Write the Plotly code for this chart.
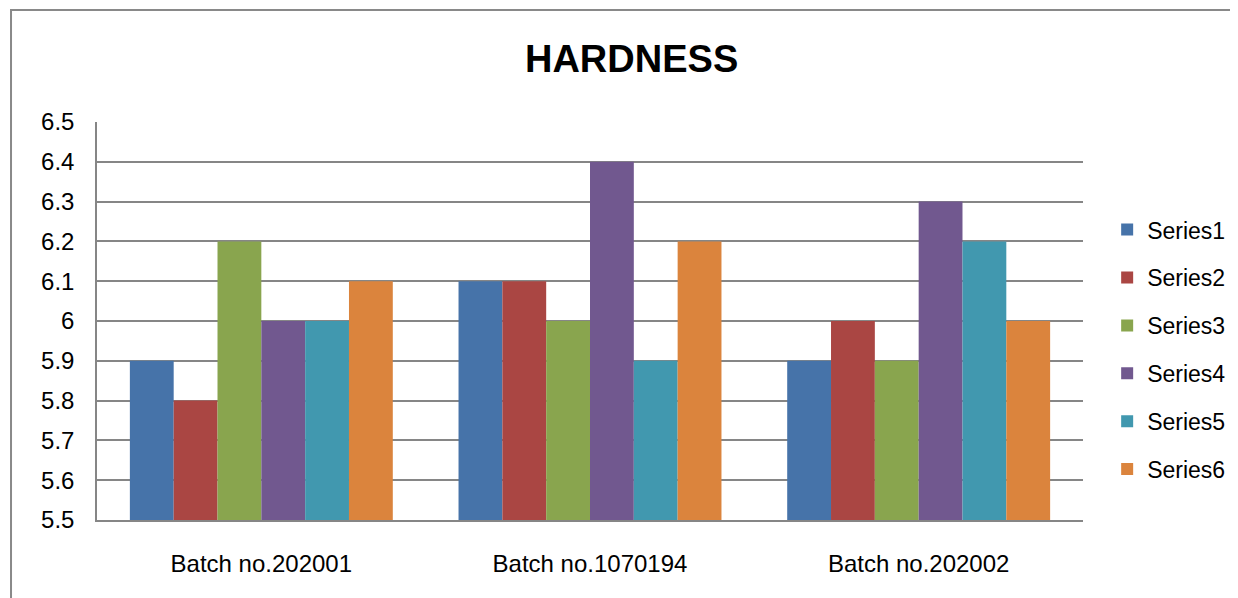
import plotly.graph_objects as go

categories = ["Batch no.202001", "Batch no.1070194", "Batch no.202002"]
series_names = ["Series1", "Series2", "Series3", "Series4", "Series5", "Series6"]
series1 = [5.9, 6.1, 5.9]
series2 = [5.8, 6.1, 6.0]
series3 = [6.2, 6.0, 5.9]
series4 = [6.0, 6.4, 6.3]
series5 = [6.0, 5.9, 6.2]
series6 = [6.1, 6.2, 6.0]
y_floor = 5.5
y_ticks = [5.5, 5.6, 5.7, 5.8, 5.9, 6.0, 6.1, 6.2, 6.3, 6.4, 6.5]
y_tick_labels = ["5.5", "5.6", "5.7", "5.8", "5.9", "6", "6.1", "6.2", "6.3", "6.4", "6.5"]

colors = ["#4673A9", "#AA4643", "#89A54E", "#71588F", "#4198AF", "#DB843D"]
font = "Liberation Sans, Arial, sans-serif"

fig = go.Figure()
for name, vals, col in zip(series_names,
                           [series1, series2, series3, series4, series5, series6],
                           colors):
    # bars start at the axis floor (5.5), like the Excel original
    fig.add_trace(go.Bar(
        x=categories, y=[v - y_floor for v in vals], base=y_floor,
        name=name, legendgroup=name,
        marker=dict(color=col, line=dict(width=0)),
    ))

# page body has an 8px margin, so the figure is a bit smaller and shifted
fig.update_layout(
    width=1230, height=590,
    margin=dict(l=89, r=155, t=114, b=78, autoexpand=False),
    paper_bgcolor="white", plot_bgcolor="white",
    barmode="group", bargap=0.2, bargroupgap=0,
    font=dict(family=font, size=24, color="black"),
    title=dict(text="<b>HARDNESS</b>", x=0.507, xref="container", xanchor="center",
               y=1 - 51 / 590, yref="container", yanchor="middle",
               font=dict(family=font, size=38, color="black")),
    showlegend=True,
    legend=dict(x=1.0245, xanchor="left", y=0.428, yanchor="middle",
                traceorder="grouped", tracegroupgap=15,
                font=dict(family=font, size=23), bgcolor="rgba(0,0,0,0)"),
    xaxis=dict(showline=True, linecolor="#868686", linewidth=1.5,
               ticks="", ticklabelstandoff=21, showgrid=False),
    yaxis=dict(range=[5.5, 6.5], tickvals=y_ticks, ticktext=y_tick_labels,
               showgrid=True, gridcolor="#868686", gridwidth=1.5,
               showline=True, linecolor="#868686", linewidth=1.5,
               ticks="", ticklabelstandoff=16, zeroline=False),
    shapes=[dict(type="rect", xref="paper", yref="paper",
                 x0=-0.0872, x1=1.3, y0=-0.4, y1=1.2814,
                 line=dict(color="#898989", width=2), layer="below")],
)

fig.write_html("out.html")
